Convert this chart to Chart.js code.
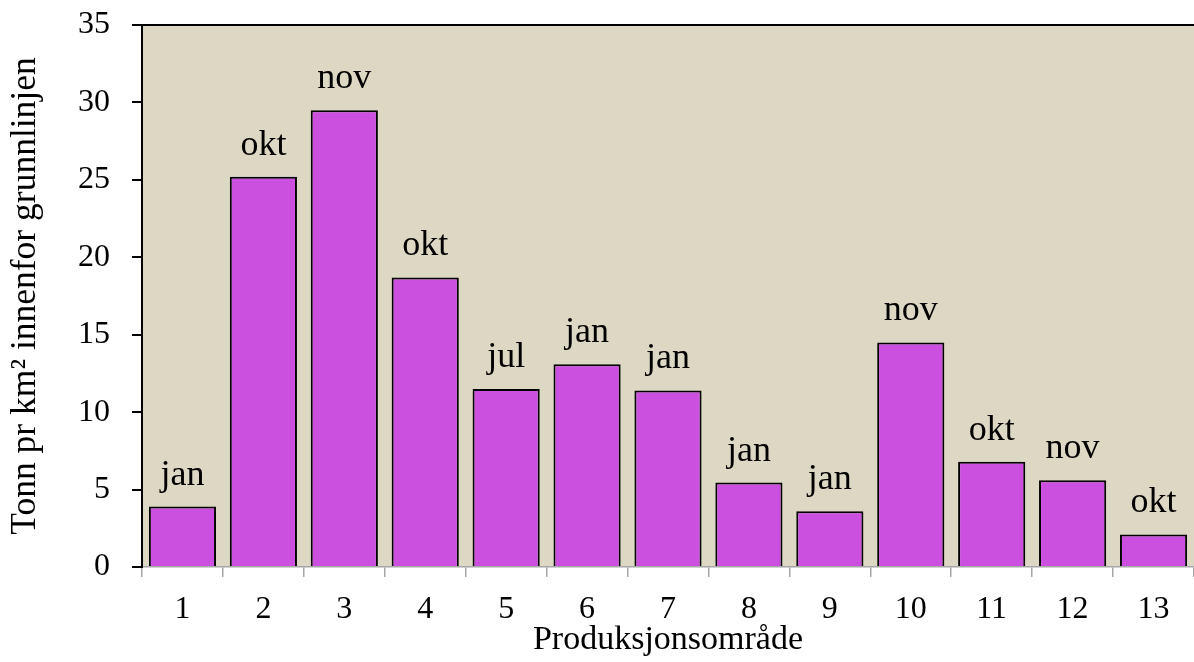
<!DOCTYPE html>
<html>
<head>
<meta charset="utf-8">
<script src="https://cdn.jsdelivr.net/npm/chart.js@4"></script>
<style>
  html, body { margin: 0; padding: 0; background: #fff; }
  #wrap { width: 1194px; height: 662px; }
</style>
</head>
<body>
<div id="wrap"><canvas id="chart" width="1194" height="662"></canvas></div>
<script>
'use strict';

const SERIF = "'Liberation Serif', 'Times New Roman', serif";

// ─── Data ─────────────────────────────────────────────────────────────────────

const areas   = ['1', '2', '3', '4', '5', '6', '7', '8', '9', '10', '11', '12', '13'];
const tonnage = [3.9, 25.2, 29.5, 18.7, 11.5, 13.1, 11.4, 5.45, 3.6, 14.5, 6.8, 5.6, 2.1];
const months  = ['jan', 'okt', 'nov', 'okt', 'jul', 'jan', 'jan', 'jan', 'jan', 'nov', 'okt', 'nov', 'okt'];
const yTicks  = [0, 5, 10, 15, 20, 25, 30, 35];

const BAR_FILL = '#cc50e0';
const PLOT_BG  = '#ddd8c4';
const AXIS_GREY = '#a6a6a6';

// ─── Plugins ──────────────────────────────────────────────────────────────────

// plot area fill + black top edge
const plotBackground = {
  id: 'plotBackground',
  beforeDraw(chart) {
    const { ctx, chartArea: a } = chart;
    ctx.save();
    ctx.fillStyle = PLOT_BG;
    ctx.fillRect(a.left, a.top, a.right - a.left, a.bottom - a.top);
    ctx.strokeStyle = '#000';
    ctx.lineWidth = 2;
    ctx.beginPath();
    ctx.moveTo(a.left, a.top);
    ctx.lineTo(a.right, a.top);
    ctx.stroke();
    ctx.restore();
  },
};

// month label above each bar
const monthLabels = {
  id: 'monthLabels',
  afterDatasetsDraw(chart) {
    const { ctx } = chart;
    const bars = chart.getDatasetMeta(0).data;
    ctx.save();
    ctx.font = `36px ${SERIF}`;
    ctx.fillStyle = '#000';
    ctx.textAlign = 'center';
    ctx.textBaseline = 'alphabetic';
    bars.forEach((bar, i) => ctx.fillText(months[i], bar.x, bar.y - 22));
    ctx.restore();
  },
};

// ─── Chart ────────────────────────────────────────────────────────────────────

new Chart(document.getElementById('chart').getContext('2d'), {
  type: 'bar',
  data: {
    labels: areas,
    datasets: [{
      data: tonnage,
      backgroundColor: BAR_FILL,
      borderColor: '#000',
      borderWidth: 2,
      barPercentage: 0.83,
      categoryPercentage: 1,
    }],
  },
  options: {
    animation: false,
    responsive: false,
    layout: { padding: { top: 25, right: -2, bottom: 0, left: 0 } },
    plugins: {
      legend: { display: false },
      tooltip: { enabled: false },
    },
    scales: {
      x: {
        grid: { drawOnChartArea: false, color: AXIS_GREY, lineWidth: 1.5, tickLength: 10 },
        border: { color: AXIS_GREY, width: 1.5 },
        ticks: { color: '#000', font: { family: SERIF, size: 32 }, padding: 13 },
        title: {
          display: true,
          text: 'Produksjonsområde',
          color: '#000',
          font: { family: SERIF, size: 34 },
          padding: { top: 0, bottom: 2 },
        },
        afterFit: s => { s.height = 95; s.paddingLeft = 0; s.paddingRight = 0; },
      },
      y: {
        min: 0,
        max: 35,
        afterBuildTicks: s => { s.ticks = yTicks.map(v => ({ value: v })); },
        grid: { drawOnChartArea: false, color: '#000', lineWidth: 2, tickLength: 10 },
        border: { color: '#000', width: 2 },
        ticks: { color: '#000', font: { family: SERIF, size: 32 }, padding: 22 },
        title: {
          display: true,
          text: 'Tonn pr km² innenfor grunnlinjen',
          color: '#000',
          font: { family: SERIF, size: 35.5 },
          padding: { top: 4, bottom: 0 },
        },
        afterFit: s => { s.width = 142; s.paddingTop = 0; s.paddingBottom = 0; },
      },
    },
  },
  plugins: [plotBackground, monthLabels],
});
</script>
</body>
</html>
